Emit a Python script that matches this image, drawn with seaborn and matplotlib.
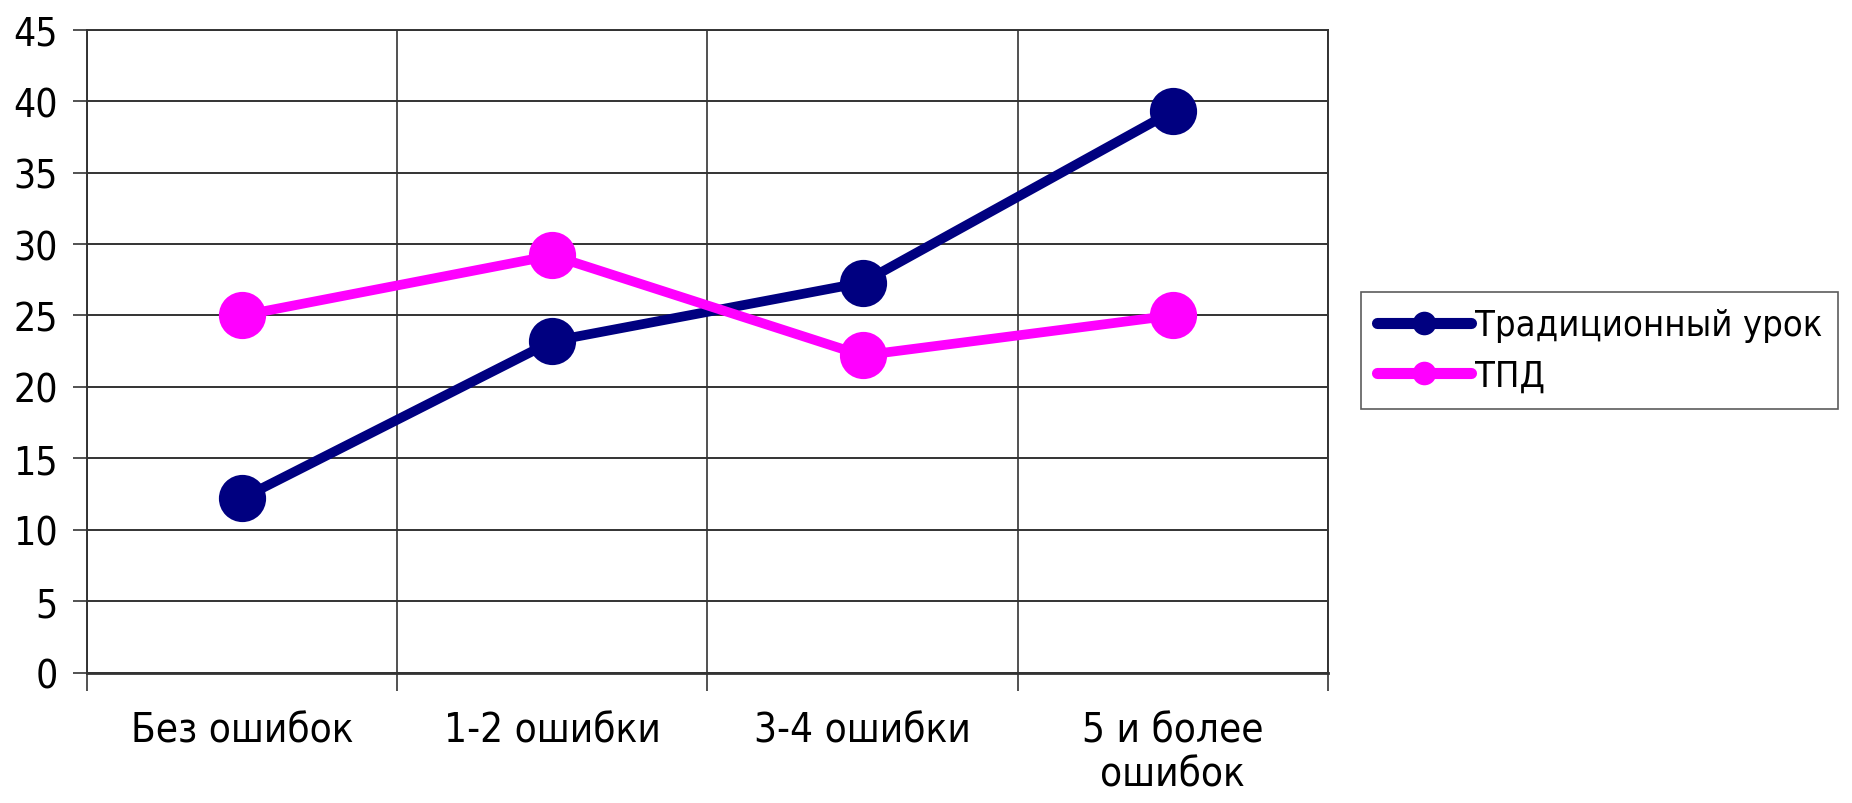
import matplotlib
matplotlib.use("Agg")
import matplotlib.pyplot as plt
import seaborn as sbn
import pandas as pd

# данные с графика
categories = ["Без ошибок", "1-2 ошибки", "3-4 ошибки", "5 и более\nошибок"]
traditional = [12.2, 23.2, 27.3, 39.3]
tpd = [25.0, 29.2, 22.2, 25.0]
series_names = ["Традиционный урок", "ТПД"]
colors = {"Традиционный урок": "#000080", "ТПД": "#FF00FF"}

df = pd.DataFrame({
    "cat": categories * 2,
    "val": traditional + tpd,
    "series": [series_names[0]] * 4 + [series_names[1]] * 4,
})

sbn.set_style("white")
plt.rcParams['font.family'] = ['DejaVu Sans']
plt.rcParams['font.stretch'] = 'condensed'
plt.rcParams['text.color'] = 'black'
plt.rcParams['xtick.labelcolor'] = 'black'
plt.rcParams['ytick.labelcolor'] = 'black'

fig = plt.figure(figsize=(18.52, 8.04), dpi=100)
ax = fig.add_axes([0.047, 0.1622, 0.717 - 0.047, 0.9618 - 0.1622])

sbn.lineplot(data=df, x="cat", y="val", hue="series", palette=colors,
             marker="o", markersize=34, linewidth=7, markeredgewidth=0,
             sort=False, ax=ax, zorder=3)

ax.set_xlim(-0.5, 3.5)
ax.set_ylim(0, 45)
ax.set_yticks(range(0, 50, 5))
ax.set_xticks(range(4))
ax.set_xticks([-0.5, 0.5, 1.5, 2.5, 3.5], minor=True)
ax.set_xticklabels(categories, fontsize=29, linespacing=1.15)
ax.tick_params(axis="y", labelsize=28, length=10, width=1.2, color="#333333", pad=11, left=True)
ax.tick_params(axis="x", which="major", length=0, pad=27)
ax.tick_params(axis="x", which="minor", length=13, width=1.2, color="#333333", bottom=True)
ax.grid(True, axis="y", color="#333333", linewidth=1.4)
ax.grid(True, axis="x", which="minor", color="#333333", linewidth=1.2)
ax.set_axisbelow(True)
for s in ax.spines.values():
    s.set_color("#333333")
    s.set_linewidth(1.4)
ax.spines["bottom"].set_linewidth(2)
ax.set_xlabel("")
ax.set_ylabel("")

leg = ax.legend(loc="center left", bbox_to_anchor=(0.7349, 0.563), bbox_transform=fig.transFigure,
                fontsize=26, frameon=True, fancybox=False, edgecolor="#333333",
                handlelength=2.6, handletextpad=0.1, borderpad=0.45, labelspacing=0.45,
                borderaxespad=0)
leg.get_frame().set_linewidth(1.2)
for h in leg.get_lines():
    h.set_markersize(17)
    h.set_linewidth(8)

fig.savefig("out.png", dpi=100)
